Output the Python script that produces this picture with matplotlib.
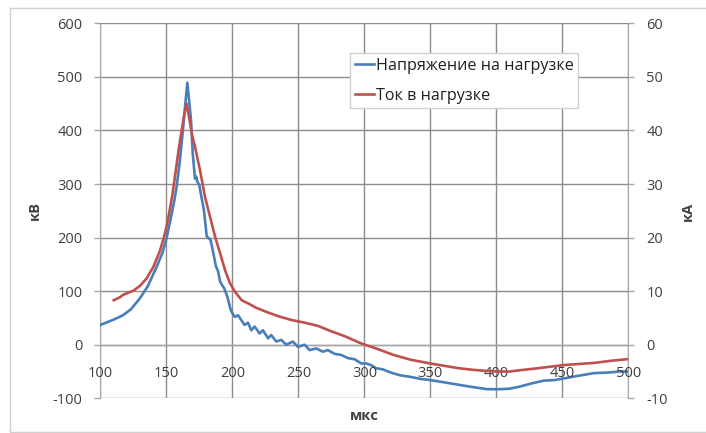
import matplotlib
matplotlib.use("Agg")
import matplotlib.pyplot as plt
from matplotlib.patches import Rectangle

plt.rcParams['font.family'] = ['Open Sans', 'DejaVu Sans']

# Load voltage, kV
volt_t = [100, 105, 110, 117, 123, 130, 136, 143, 147, 150, 153, 156, 157.7, 160,
          162.7, 164.3, 165.8, 167, 168.6, 169.9, 171.6, 172.5, 173.4, 174.9, 176.7,
          178.4, 180.5, 182, 183.5, 185.5, 187.5, 189, 190.6, 192, 193.8, 196.1,
          198.7, 200.4, 202, 204.2, 206.7, 209.2, 211.8, 214.3, 216.8, 220.6, 223.1,
          227, 229.4, 233.2, 237, 240.8, 245.8, 249.6, 254.7, 258.4, 263.5, 268.6,
          272.3, 277.4, 282.4, 287.5, 292.5, 297.6, 301.4, 305, 309, 314, 320, 327,
          335, 343, 350, 360, 372, 382, 393, 403, 410, 418, 427, 436, 444, 451, 462,
          474, 484, 494, 500]
volt_kv = [37, 42, 47, 55, 66, 87, 110, 148, 172, 198, 233, 270, 295, 340,
           407, 450, 489, 460, 419, 357, 310, 314, 304, 298, 273,
           251, 202, 199, 195, 171, 146, 138, 118, 112, 105, 90,
           65, 57, 52, 55, 46, 37, 41, 27, 34, 21, 27,
           12, 18, 6, 9, 0, 6, -4, 0, -10, -7, -13,
           -10, -17, -19, -25, -27, -35, -35, -38, -44, -46, -52, -57,
           -60, -64, -66, -70, -75, -79, -83, -83, -82, -78, -72, -67, -66, -63, -58,
           -53, -52, -50, -50]

# Load current, kA
cur_t = [110, 115, 117, 120, 125, 130, 135, 140, 145, 148, 150, 152, 154.5, 156.5,
         159, 161.5, 163.5, 165.3, 167.8, 169.5, 171.6, 175.4, 179.2, 183, 186.8,
         190.6, 194.4, 198.1, 201.9, 207, 212, 218, 225, 235, 245, 255, 265, 275,
         285, 297, 310, 322, 335, 350, 362, 372, 383, 393, 402, 410, 420, 431, 441,
         451, 462, 474, 487, 499]
cur_ka = [8.3, 8.9, 9.3, 9.6, 10.1, 11.0, 12.4, 14.5, 17.5, 20.0, 22.0, 24.5, 28.0, 31.5,
          36.0, 40.0, 43.0, 45.0, 41.5, 39.0, 37.0, 32.6, 27.6, 23.9, 20.2,
          17.1, 13.9, 11.5, 9.9, 8.3, 7.7, 6.9, 6.2, 5.3, 4.6, 4.1, 3.5, 2.5,
          1.6, 0.3, -0.8, -1.9, -2.8, -3.5, -4.0, -4.4, -4.7, -4.9, -5.0, -5.0, -4.7,
          -4.4, -4.1, -3.8, -3.6, -3.4, -3.0, -2.7]

x_ticks = [100, 150, 200, 250, 300, 350, 400, 450, 500]
kv_ticks = [-100, 0, 100, 200, 300, 400, 500, 600]
ka_ticks = [-10, 0, 10, 20, 30, 40, 50, 60]

label_v = "Напряжение на нагрузке"
label_i = "Ток в нагрузке"

BLUE = "#4a7ebb"
RED = "#c0504d"
GRID = "#8c8c8c"
AXIS = "#a6a6a6"
TEXT = "#404040"

fig = plt.figure(figsize=(7.06, 4.33), dpi=100)
fig.patches.append(Rectangle((10 / 706, 1 / 433), 1.0, 424 / 433, transform=fig.transFigure,
                             fill=False, edgecolor="#d0d0d0", linewidth=1.0))

ax = fig.add_axes([100.5 / 706, 34.7 / 433, 527.8 / 706, 375.0 / 433])
ax2 = ax.twinx()

ax.set_xlim(100, 500)
ax.set_ylim(-100, 600)
ax2.set_ylim(-10, 60)

ax.set_yticks(kv_ticks)
ax.set_yticklabels([str(v) for v in kv_ticks])
ax2.set_yticks(ka_ticks)
ax2.set_yticklabels([str(v) for v in ka_ticks])
ax.set_xticks(x_ticks)
ax.set_xticklabels([])
ax.tick_params(axis='x', length=0)

for a in (ax, ax2):
    a.tick_params(axis='y', length=4, width=1, color=AXIS, labelsize=10.5,
                  labelcolor=TEXT, pad=9)
    for s in a.spines.values():
        s.set_visible(False)

ax.grid(True, color=GRID, linewidth=1.0)
ax.set_axisbelow(True)
ax.spines['left'].set_visible(True)
ax.spines['left'].set_color(AXIS)
ax.spines['right'].set_visible(True)
ax.spines['right'].set_color(AXIS)
ax.axhline(0, color=AXIS, linewidth=1.0, zorder=1)

# Tick labels along the horizontal axis, which crosses at zero
for t in x_ticks:
    ax.annotate(str(t), xy=(t, 0), xytext=(0, -20.5), textcoords='offset points',
                ha='center', va='center', fontsize=10.5, color=TEXT,
                annotation_clip=False, zorder=5)

lv, = ax.plot(volt_t, volt_kv, color=BLUE, linewidth=1.9, zorder=3)
li, = ax2.plot(cur_t, cur_ka, color=RED, linewidth=1.9, zorder=3)

ax.set_xlabel("мкс", fontsize=10.5, fontweight='bold', color=TEXT, labelpad=4)
fig.text(35 / 706, 1 - 211 / 433, "кВ", rotation=90, ha='center', va='center',
         fontsize=10.5, fontweight='bold', color=TEXT)
fig.text(688 / 706, 1 - 211 / 433, "кА", rotation=90, ha='center', va='center',
         fontsize=10.5, fontweight='bold', color=TEXT)

leg = ax2.legend([lv, li], [label_v, label_i], loc='upper left',
                 bbox_to_anchor=(350 / 706, 1 - 53 / 433), bbox_transform=fig.transFigure,
                 frameon=True, fancybox=False, framealpha=1, edgecolor="#d0d0d0",
                 prop={'size': 11.6}, handlelength=1.2, handletextpad=0.1,
                 borderpad=0.3, labelspacing=0.85, borderaxespad=0)
for txt in leg.get_texts():
    txt.set_color("#202020")

fig.savefig("out.png", dpi=100)
